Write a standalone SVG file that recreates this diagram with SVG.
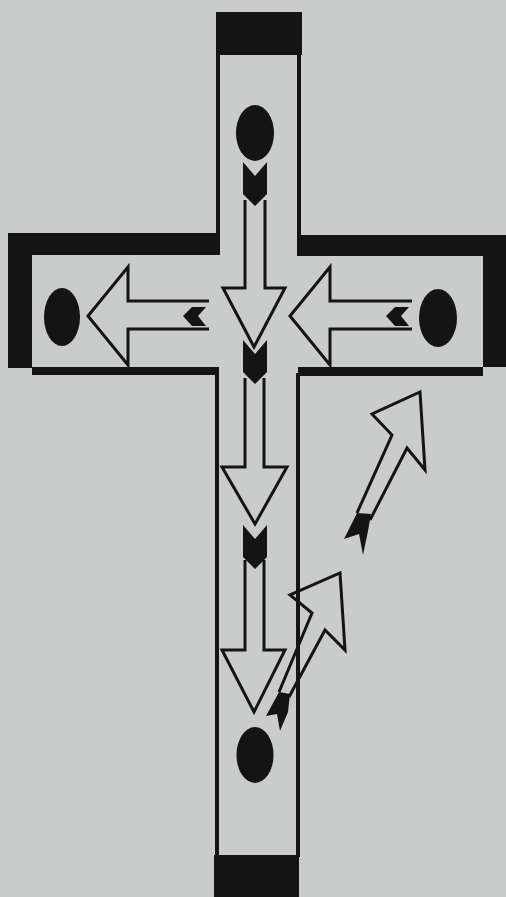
<svg xmlns="http://www.w3.org/2000/svg" width="506" height="897" viewBox="0 0 506 897">
<style>
.bar{fill:#141414}
.ln{stroke:#141414;stroke-width:4;fill:none}
.ar{stroke:#141414;stroke-width:3;fill:none;stroke-linejoin:miter}
.blk{fill:#141414}
</style>
<defs>
<path id="fd" d="M-12,0 L0,14 L12,0 L12,32 L0,44 L-12,32 Z"/>
<path id="fl" d="M0,9 L9,0 L23,0 L15,9 L23,19 L9,19 Z"/>
</defs>
<rect x="0" y="0" width="506" height="897" fill="#c9ccca"/>
<g id="cross">
<rect class="bar" x="216" y="12" width="86" height="43"/>
<rect class="bar" x="214" y="855" width="85" height="42"/>
<rect class="bar" x="8" y="233" width="212" height="22"/>
<rect class="bar" x="8" y="233" width="24" height="135"/>
<rect class="bar" x="32" y="367" width="187" height="8"/>
<rect class="bar" x="297" y="235" width="209" height="21"/>
<rect class="bar" x="483" y="235" width="23" height="132"/>
<rect class="bar" x="298" y="367" width="185" height="9"/>
<line class="ln" x1="218" y1="55" x2="218" y2="235"/>
<line class="ln" x1="299" y1="55" x2="299" y2="237"/>
<line class="ln" x1="217" y1="373" x2="217" y2="857"/>
<line class="ln" x1="298" y1="373" x2="298" y2="857"/>
</g>
<g id="dot-top"><ellipse class="blk" cx="255" cy="133" rx="19" ry="28"/></g>
<g id="dot-left"><ellipse class="blk" cx="62" cy="317" rx="18" ry="29"/></g>
<g id="dot-right"><ellipse class="blk" cx="438" cy="318" rx="19" ry="29"/></g>
<g id="dot-bottom"><ellipse class="blk" cx="255" cy="755" rx="18.5" ry="28"/></g>
<g id="connectors">
<g id="arrow-down-1">
<path class="ar" d="M245,200 V288 H223 L254,347 L285,288 H265 V200"/>
<use href="#fd" x="255" y="162" class="blk"/>
</g>
<g id="arrow-down-2">
<path class="ar" d="M245,378 V467 H222 L255,524 L287,467 H264 V378"/>
<use href="#fd" x="255" y="340" class="blk"/>
</g>
<g id="arrow-down-3">
<path class="ar" d="M245,560 V650 H222 L254,712 L285,650 H264 V560"/>
<use href="#fd" x="255" y="525" class="blk"/>
</g>
<g id="arrow-left">
<path class="ar" d="M209,301 H128 V267 L88,316 L128,365 V329 H209" stroke-width="3.5"/>
<use href="#fl" x="183" y="307" class="blk"/>
</g>
<g id="arrow-right">
<path class="ar" d="M412,301 H330 V267 L290,316 L330,365 V329 H412" stroke-width="3.5"/>
<use href="#fl" x="386" y="307" class="blk"/>
</g>
<g id="arrow-diag-1">
<path class="ar" d="M370,520 L407,448 L425,470 L420,392 L372,414 L392,435 L357,513"/>
<path class="blk" d="M344,539 L357,513 L371,514 L368,531 L363,555 L359,534 Z"/>
</g>
<g id="arrow-diag-2">
<path class="ar" d="M289,697 L325,630 L345,650 L340,573 L290,595 L312,613 L279,692"/>
<path class="blk" d="M266,716 L279,692 L290,694 L288,712 L280,731 L277,714 Z"/>
</g>
</g>
</svg>
